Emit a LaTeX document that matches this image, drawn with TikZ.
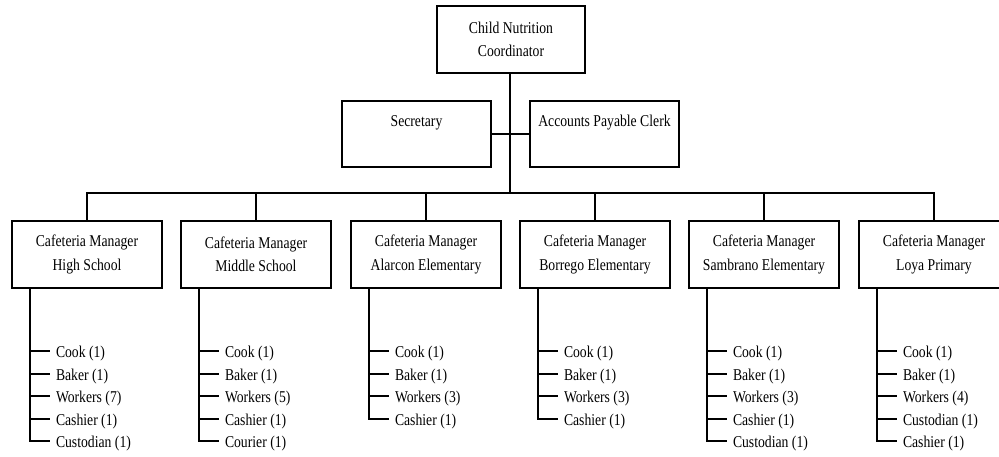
\documentclass[tikz,border=0pt]{standalone}
\usepackage{fontspec}
\setmainfont{Liberation Serif}[FakeStretch=0.83]
\begin{document}
\begin{tikzpicture}[x=1pt,y=-1pt,
  line width=2pt,
  every node/.style={font=\fontsize{16.5}{23.5}\selectfont},
  box/.style={draw, line width=2pt, inner sep=0pt, minimum width=150pt, minimum height=67pt, align=center},
  lbl/.style={inner sep=0pt},
  item/.style={inner sep=0pt, anchor=base west}]
\useasboundingbox (0,0) rectangle (999,456);
\newcommand\drawstaff[3]{%
  \foreach \t [count=\k] in {#3} {
    \pgfmathsetmacro\yy{round(351+22.5*(\k-1))}
    \node[item] (#1-\k) at (#2-32,\yy+6) {\t};
    \coordinate (#1-s\k) at (#2-57,\yy);
    \draw (#1.south -| #1-s\k) |- ([xshift=-5pt,yshift=6pt]#1-\k.base west);
  }%
}
% top
\node[box, minimum width=148pt] (top) at (511,39.5) {Child Nutrition\\Coordinator};
\node[box, minimum width=149pt, minimum height=66pt] (sec) at (416.5,134) {};
\node[lbl] (sect) at (416.5,123) {Secretary};
\node[box, minimum width=149pt, minimum height=66pt] (acc) at (604.5,134) {};
\node[lbl] (acct) at (604.5,123) {Accounts Payable Clerk};
\coordinate (bus) at (510,193);
\draw (top.south -| bus) -- (bus);
\draw (sec.east) -- (acc.west);
% managers
\node[box] (m1) at (87,254.5) {Cafeteria Manager\\High School};
\node[box] (m2) at (256,254.5) {Cafeteria Manager\\Middle School};
\node[box] (m3) at (426,254.5) {Cafeteria Manager\\Alarcon Elementary};
\node[box] (m4) at (595,254.5) {Cafeteria Manager\\Borrego Elementary};
\node[box] (m5) at (764,254.5) {Cafeteria Manager\\Sambrano Elementary};
\node[box] (m6) at (934,254.5) {Cafeteria Manager\\Loya Primary};
\draw (m1.north) |- (bus) -| (m6.north);
\foreach \m in {m2,m3,m4,m5} \draw (\m.north) -- (\m.north |- bus);
% staff
\drawstaff{m1}{87}{Cook (1),Baker (1),Workers (7),Cashier (1),Custodian (1)}
\drawstaff{m2}{256}{Cook (1),Baker (1),Workers (5),Cashier (1),Courier (1)}
\drawstaff{m3}{426}{Cook (1),Baker (1),Workers (3),Cashier (1)}
\drawstaff{m4}{595}{Cook (1),Baker (1),Workers (3),Cashier (1)}
\drawstaff{m5}{764}{Cook (1),Baker (1),Workers (3),Cashier (1),Custodian (1)}
\drawstaff{m6}{934}{Cook (1),Baker (1),Workers (4),Custodian (1),Cashier (1)}
\end{tikzpicture}
\end{document}
